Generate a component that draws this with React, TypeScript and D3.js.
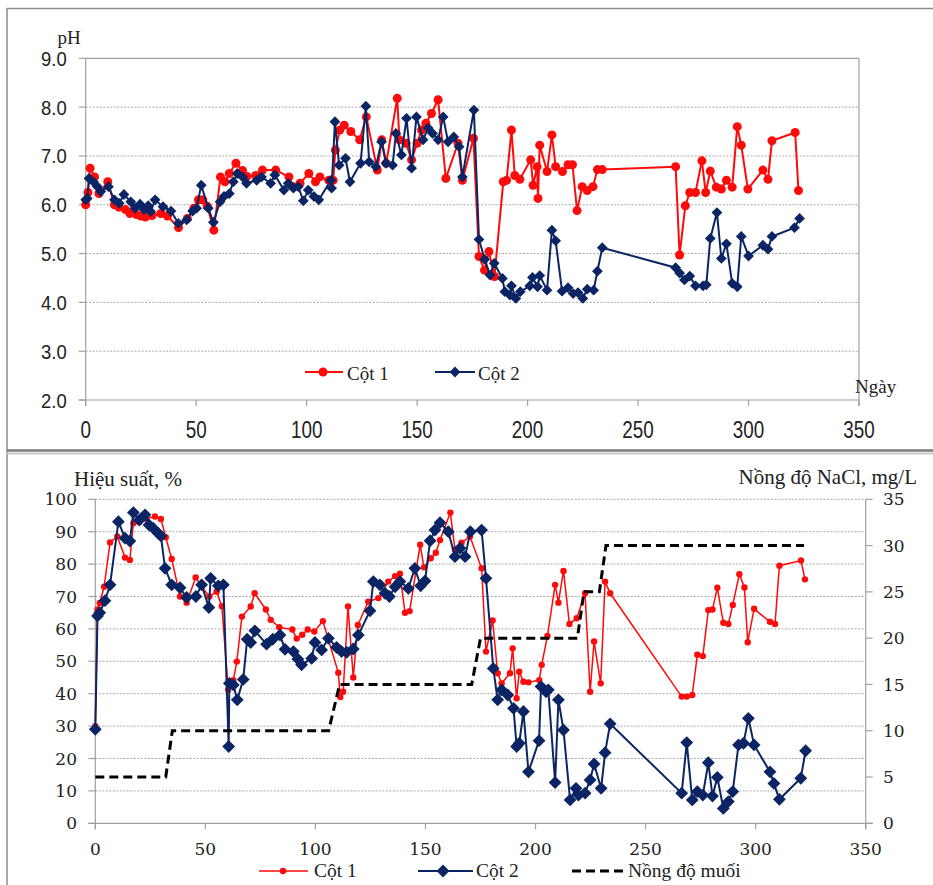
import React from "react";
import * as d3 from "d3";

// ---- pH over time (days) ----
const phCot1: [number, number][] = [
  [0, 6.0], [1, 6.25], [2, 6.75], [4, 6.57], [6, 6.23], [10, 6.47], [13, 6.0], [15, 5.95], [18, 5.9],
  [20, 5.82], [23, 5.8], [25, 5.77], [27, 5.75], [30, 5.78], [34, 5.82], [37, 5.77], [42, 5.53],
  [46, 5.72], [49, 5.93], [51, 6.1], [53, 6.1], [55, 5.97], [58, 5.48], [61, 6.57], [63, 6.47],
  [65, 6.64], [68, 6.85], [71, 6.7], [73, 6.58], [77, 6.6], [80, 6.71], [86, 6.71], [92, 6.57],
  [94, 6.37], [97, 6.44], [101, 6.64], [104, 6.47], [106, 6.57], [110, 6.5], [112, 6.5], [113, 7.12],
  [115, 7.53], [117, 7.63], [120, 7.5], [124, 7.33], [127, 7.8], [132, 6.71], [134, 7.33], [136, 6.85],
  [141, 8.18], [142, 7.33], [145, 7.26], [147.5, 6.92], [150, 7.26], [152, 7.53], [154, 7.67],
  [156.5, 7.87], [159.5, 8.15], [163, 6.54], [168.5, 7.26], [170.5, 6.5], [175.5, 7.36], [178, 4.94],
  [180.5, 4.66], [182.5, 5.04], [185, 4.53], [189, 6.47], [190.5, 6.5], [192.7, 7.53], [194.2, 6.6],
  [196.5, 6.52], [201.4, 6.92], [202.5, 6.4], [204.3, 6.78], [204.7, 6.13], [205.5, 7.22], [208.8, 6.68],
  [211, 7.43], [212.7, 6.78], [215.8, 6.68], [218.3, 6.82], [220.3, 6.82], [222.4, 5.88], [224.7, 6.37],
  [227, 6.29], [229.6, 6.37], [231.6, 6.72], [233.8, 6.72], [267, 6.78], [268.8, 4.97], [271.4, 5.98],
  [273.4, 6.25], [276, 6.25], [278.9, 6.9], [280.6, 6.25], [282.7, 6.69], [285.4, 6.36], [287.7, 6.32],
  [290, 6.5], [292.6, 6.36], [294.9, 7.6], [296.7, 7.22], [299.7, 6.32], [306.5, 6.71], [308.8, 6.52],
  [310.6, 7.31], [321.1, 7.48], [322.6, 6.29],
];

const phCot2: [number, number][] = [
  [0, 6.1], [0.7, 6.13], [1.5, 6.54], [3.5, 6.47], [5.3, 6.37], [6.8, 6.27], [10.3, 6.37], [13, 6.1],
  [15.2, 6.03], [17.3, 6.21], [20.4, 6.06], [22.3, 5.93], [24.6, 6.01], [26.4, 5.9], [28.3, 5.98],
  [29.4, 5.86], [31.4, 6.1], [35, 5.96], [38.6, 5.87], [41.9, 5.62], [45.7, 5.69], [48.4, 5.87],
  [50.2, 5.93], [52.3, 6.4], [55.5, 5.93], [57.8, 5.64], [60.8, 6.06], [62.6, 6.17], [65, 6.23],
  [66.8, 6.47], [68.6, 6.64], [71, 6.57], [72.8, 6.44], [77.4, 6.5], [79.6, 6.57], [83.7, 6.44],
  [85.6, 6.61], [89.7, 6.3], [91.7, 6.44], [94, 6.34], [96.2, 6.37], [98.5, 6.08], [100.7, 6.3],
  [103.3, 6.17], [105.5, 6.1], [111, 6.5], [111.3, 6.34], [112.8, 7.7], [114.7, 6.81], [117.6, 6.95],
  [119.6, 6.47], [124.4, 6.85], [126.8, 8.02], [128.3, 6.88], [131.3, 6.78], [133.9, 7.29], [135.9, 6.85],
  [138.9, 6.81], [140.4, 7.46], [142.9, 7.02], [145.2, 7.77], [147.5, 6.75], [149.7, 7.8], [152.7, 7.33],
  [155, 7.57], [157, 7.46], [159.5, 7.33], [161.8, 7.8], [164, 7.29], [166.6, 7.39], [169, 7.19],
  [170.5, 6.57], [175.7, 7.94], [178, 5.29], [180.6, 4.88], [183, 4.56], [184.9, 4.8], [188.6, 4.49],
  [189.7, 4.22], [192, 4.15], [192.7, 4.34], [194.7, 4.08], [196.7, 4.22], [201, 4.34], [202.2, 4.51],
  [204.5, 4.32], [205.5, 4.55], [208.8, 4.25], [211, 5.48], [212.7, 5.26], [215.6, 4.23], [218.3, 4.3],
  [220.6, 4.18], [222.8, 4.2], [225, 4.08], [227, 4.27], [229.9, 4.25], [231.6, 4.64], [233.8, 5.12],
  [267, 4.71], [268.8, 4.6], [271, 4.46], [273.4, 4.54], [276, 4.34], [279.4, 4.34], [280.9, 4.36],
  [282.7, 5.31], [285.7, 5.84], [287.7, 4.9], [290, 5.2], [292.6, 4.39], [294.9, 4.32], [296.7, 5.35],
  [300, 4.95], [306.5, 5.17], [308.8, 5.09], [310.6, 5.35], [320.8, 5.53], [323.1, 5.72],
];

// ---- removal efficiency (%) and NaCl concentration ----
const hsCot1: [number, number][] = [
  [0, 30], [1, 66], [2, 68], [4, 73], [6.7, 86.7], [10, 88.5], [13.5, 82], [15.7, 81.3], [17.3, 92.6],
  [20, 93], [23, 94], [27.1, 94.7], [29.8, 93.9], [32, 88.3], [34.7, 81.6], [38.5, 70], [41.5, 68.1],
  [45.6, 75.9], [48.3, 73], [51.8, 70], [55.1, 71.5], [57.5, 67], [60.4, 41.2], [62.7, 44.2],
  [64.3, 49.9], [66.6, 63.8], [70.6, 66.9], [72.4, 71], [77.5, 66], [79.7, 62.8], [83.6, 60.5],
  [89.5, 59.8], [91.5, 57], [94, 58.2], [96.5, 59.8], [99.5, 59.2], [103.4, 62.4], [110.4, 46.5],
  [111.3, 39], [112.6, 40.6], [114.8, 66.9], [117.2, 45], [119.3, 61.2], [124, 68.4], [128.6, 69.5],
  [133.1, 74.6], [136.2, 76.3], [138.4, 77], [140.7, 65], [142.8, 65.5], [147.6, 86], [149.3, 79],
  [152.4, 81.8], [154.7, 83.5], [156.6, 87.4], [161.3, 95.9], [163.4, 84.5], [166.4, 86.6],
  [170.2, 88.5], [175.5, 78.7], [177.5, 53], [180.5, 62.6], [182.8, 46.3], [184.6, 43.2], [188.4, 46.3],
  [189.6, 54], [191.4, 38.6], [192.6, 46.8], [194.5, 43.7], [196.8, 43.5], [201.7, 44.2], [202.8, 48.9],
  [205.4, 57.8], [208.9, 73.6], [210.4, 68.1], [212.7, 77.9], [215.4, 61.5], [218.7, 63.3], [222.5, 71],
  [224.8, 40.6], [226.6, 56.1], [229.6, 43.2], [231.6, 74.6], [233.9, 71], [266.4, 39.1], [268.7, 39.1],
  [271.2, 39.6], [273.5, 52], [276, 51.6], [278.5, 65.8], [280.4, 66], [282.6, 72.7], [285.3, 61.9],
  [287.6, 61.5], [289.6, 67.4], [292.6, 76.9], [294.9, 72.8], [296.4, 55.9], [299.3, 66.2],
  [306.5, 62.2], [308.8, 61.5], [310.8, 79.5], [320.6, 81.1], [322.4, 75.3],
];

const hsCot2: [number, number][] = [
  [0, 29], [1, 64], [2, 65], [4.4, 68.7], [6.7, 73.6], [10.5, 93.1], [13.5, 88], [15.7, 87.1],
  [17.3, 95.9], [20, 93.6], [22.6, 95.2], [24.4, 92.1], [26.4, 91], [28.6, 89.5], [29.8, 88.7],
  [31.7, 78.7], [34.7, 73.6], [38.5, 72.7], [41.5, 69.7], [45.7, 70], [48.3, 73.6], [51.6, 66.6],
  [52.4, 75.6], [55.9, 73.3], [58.2, 73.6], [60.6, 23.7], [60.9, 43.2], [62.7, 42.7], [64.5, 38.1],
  [67.2, 44.4], [69, 56.8], [70.6, 55.8], [72.5, 59.4], [77.8, 55.3], [80.6, 56.8], [83.9, 58.1],
  [86.2, 53.7], [90, 53], [92, 50.7], [93.7, 48.9], [98.3, 50.9], [99.8, 55.8], [102.8, 53.5],
  [105.9, 57.1], [109.6, 54.3], [111.9, 53], [114.2, 52.8], [117.2, 53.8], [119.5, 58.1], [124.8, 65.6],
  [126.3, 74.6], [129.3, 73.6], [131.6, 71], [133.6, 70], [136.2, 73], [138.4, 74.6], [142.2, 72.5],
  [145.2, 78.7], [147.8, 73.3], [149.8, 74.8], [152.1, 87.2], [154.3, 90.5], [156.6, 92.8], [160.4, 90],
  [163.4, 82.3], [165.7, 84.9], [168, 82.3], [170.4, 90], [175.5, 90.5], [177.5, 75.6], [180.8, 47.8],
  [182.8, 38.1], [184.6, 41.2], [187.4, 39.6], [190, 35.5], [191.4, 23.7], [192.6, 24.7], [194.5, 34.5],
  [196.8, 15.9], [201.6, 25.5], [202.5, 42.2], [204.8, 40.6], [205.8, 41.2], [208.9, 12.6], [210.4, 38.1],
  [212.7, 28.8], [215.7, 7.2], [218.4, 10.8], [219.5, 8.7], [222.5, 9.3], [224.8, 13.4], [226.6, 18.3],
  [229.8, 10.8], [231.6, 21.8], [233.9, 30.7], [266.4, 9.3], [268.7, 24.9], [271.2, 7.2], [273.5, 9.8],
  [276, 8.7], [278.5, 18.7], [280.4, 8.4], [282.6, 14.2], [285.3, 4.6], [287.6, 6.7], [289.6, 9.8],
  [292.2, 24.2], [294.5, 24.7], [296.7, 32.4], [299.3, 24.2], [306.5, 15.9], [308.3, 12.3], [310.8, 7.4],
  [320.5, 13.9], [322.7, 22.4],
];

const nongDoMuoi: [number, number][] = [
  [0, 5], [32, 5], [35, 10], [106, 10], [111, 15], [171, 15], [175, 20], [219, 20], [222, 25],
  [229, 25], [232, 30], [322, 30],
];

const dayTicks = [0, 50, 100, 150, 200, 250, 300, 350];
const phTicks = [2, 3, 4, 5, 6, 7, 8, 9];
const hsTicks = [0, 10, 20, 30, 40, 50, 60, 70, 80, 90, 100];
const naclTicks = [0, 5, 10, 15, 20, 25, 30, 35];

const RED = "#ff0a0a";
const NAVY = "#0b2463";
const GRID = "#a8a8a8";
const AXIS = "#a0a0a0";
const SERIF = "'Liberation Serif', 'Times New Roman', serif";
const SANS = "'Liberation Sans', Arial, sans-serif";
const TICKSERIF = "'DejaVu Serif', serif";

// scales
const xTop = d3.scaleLinear().domain([0, 350]).range([85.7, 859]);
const yTop = d3.scaleLinear().domain([2, 9]).range([400, 58.3]);
const xBot = d3.scaleLinear().domain([0, 350]).range([95.3, 865.7]);
const yBot = d3.scaleLinear().domain([0, 100]).range([823.3, 499.3]);
const yNaCl = d3.scaleLinear().domain([0, 35]).range([823.3, 499.3]);

const diamond = (size: number) => d3.symbol(d3.symbolSquare, size)() as string;

function Diamond({ x, y, size, fill }: { x: number; y: number; size: number; fill: string }) {
  return <path d={diamond(size)} transform={`translate(${x},${y}) rotate(45)`} fill={fill} />;
}

// condensed sans label (horizontally squeezed)
function NarrowText({
  x, y, children, anchor, size, squeeze, dy,
}: { x: number; y: number; children: React.ReactNode; anchor: "start" | "middle" | "end"; size: number; squeeze: number; dy?: string }) {
  return (
    <text
      transform={`translate(${x},${y}) scale(${squeeze},1)`}
      dy={dy}
      textAnchor={anchor}
      fontFamily={SANS}
      fontSize={size}
      fill="#222"
    >
      {children}
    </text>
  );
}

export default function App() {
  const lt = d3.line<[number, number]>().x((d) => xTop(d[0])).y((d) => yTop(d[1]));
  const lb = d3.line<[number, number]>().x((d) => xBot(d[0])).y((d) => yBot(d[1]));
  const ln = d3.line<[number, number]>().x((d) => xBot(d[0])).y((d) => yNaCl(d[1]));

  const [x0t, x1t] = xTop.range();
  const [x0b, x1b] = xBot.range();

  return (
    <svg
      width={933}
      height={885}
      style={{ position: "absolute", left: 0, top: 0, background: "#fff" }}
      xmlns="http://www.w3.org/2000/svg"
    >
      <rect x={0} y={0} width={933} height={885} fill="#fff" />
      {/* panel frames */}
      <line x1={7} y1={8.5} x2={933} y2={8.5} stroke="#8c8c8c" strokeWidth={1.5} />
      <line x1={7} y1={8} x2={7} y2={885} stroke="#8c8c8c" strokeWidth={1.5} />
      <line x1={7} y1={450.5} x2={933} y2={450.5} stroke="#7a7a7a" strokeWidth={2.5} />
      <line x1={7} y1={453.5} x2={933} y2={453.5} stroke="#c8c8c8" strokeWidth={2} />

      {/* ===== pH chart ===== */}
      <g>
        {phTicks.slice(1, -1).map((t) => (
          <line key={t} x1={x0t} x2={x1t} y1={yTop(t)} y2={yTop(t)} stroke={GRID} strokeDasharray="2,1.5" />
        ))}
        <line x1={x0t} x2={x1t} y1={yTop(9)} y2={yTop(9)} stroke={AXIS} strokeWidth={1.2} />
        <line x1={x1t} x2={x1t} y1={yTop(9)} y2={yTop(2) + 6} stroke={AXIS} strokeWidth={1.2} />
        <line x1={x0t} x2={x0t} y1={yTop(9)} y2={yTop(2) + 6} stroke={AXIS} strokeWidth={1.2} />
        <line x1={x0t - 7} x2={x1t} y1={yTop(2)} y2={yTop(2)} stroke={AXIS} strokeWidth={1.2} />
        {phTicks.map((t) => (
          <g key={t}>
            <line x1={x0t - 7} x2={x0t} y1={yTop(t)} y2={yTop(t)} stroke={AXIS} strokeWidth={1.2} />
            <NarrowText x={66.7} y={yTop(t)} dy="0.36em" anchor="end" size={21} squeeze={0.88}>
              {d3.format(".1f")(t)}
            </NarrowText>
          </g>
        ))}
        {dayTicks.map((t) => (
          <g key={t}>
            <line x1={xTop(t)} x2={xTop(t)} y1={yTop(2)} y2={yTop(2) + 6} stroke={AXIS} strokeWidth={1.2} />
            <NarrowText x={xTop(t)} y={438} anchor="middle" size={23} squeeze={0.82}>
              {t}
            </NarrowText>
          </g>
        ))}
        <text x={57.5} y={44} fontFamily={SERIF} fontSize={19} fill="#222">pH</text>
        <text x={855} y={393} fontFamily={SERIF} fontSize={19} fill="#222">Ngày</text>

        <path d={lt(phCot1) as string} fill="none" stroke={RED} strokeWidth={2} />
        {phCot1.map((d, i) => (
          <circle key={i} cx={xTop(d[0])} cy={yTop(d[1])} r={4.5} fill={RED} />
        ))}
        <path d={lt(phCot2) as string} fill="none" stroke={NAVY} strokeWidth={2} />
        {phCot2.map((d, i) => (
          <Diamond key={i} x={xTop(d[0])} y={yTop(d[1])} size={58} fill={NAVY} />
        ))}

        {/* legend */}
        <line x1={305} x2={343} y1={372} y2={372} stroke={RED} strokeWidth={2} />
        <circle cx={323} cy={372} r={4.5} fill={RED} />
        <text x={347} y={380} fontFamily={SERIF} fontSize={19} fill="#222">Cột 1</text>
        <line x1={435} x2={475} y1={372} y2={372} stroke={NAVY} strokeWidth={2} />
        <Diamond x={455} y={372} size={58} fill={NAVY} />
        <text x={478} y={380} fontFamily={SERIF} fontSize={19} fill="#222">Cột 2</text>
      </g>

      {/* ===== efficiency / NaCl chart ===== */}
      <g>
        {hsTicks.slice(1).map((t) => (
          <line key={t} x1={x0b} x2={x1b} y1={yBot(t)} y2={yBot(t)} stroke={GRID} strokeDasharray="2,1.5" />
        ))}
        <line x1={x0b} x2={x0b} y1={yBot(100)} y2={yBot(0) + 6} stroke={AXIS} strokeWidth={1.2} />
        <line x1={x1b} x2={x1b} y1={yBot(100)} y2={yBot(0) + 6} stroke={AXIS} strokeWidth={1.2} />
        <line x1={x0b - 7} x2={x1b + 7} y1={yBot(0)} y2={yBot(0)} stroke={AXIS} strokeWidth={1.2} />
        {hsTicks.map((t) => (
          <g key={t}>
            <line x1={x0b - 7} x2={x0b} y1={yBot(t)} y2={yBot(t)} stroke={AXIS} strokeWidth={1.2} />
            <text x={77} y={yBot(t)} dy="0.36em" textAnchor="end" fontFamily={TICKSERIF} fontSize={17} fill="#222">
              {t}
            </text>
          </g>
        ))}
        {naclTicks.map((t) => (
          <g key={t}>
            <line x1={x1b} x2={x1b + 7} y1={yNaCl(t)} y2={yNaCl(t)} stroke={AXIS} strokeWidth={1.2} />
            <text x={883} y={yNaCl(t)} dy="0.36em" textAnchor="start" fontFamily={TICKSERIF} fontSize={17} fill="#222">
              {t}
            </text>
          </g>
        ))}
        {dayTicks.map((t) => (
          <g key={t}>
            <line x1={xBot(t)} x2={xBot(t)} y1={yBot(0)} y2={yBot(0) + 6} stroke={AXIS} strokeWidth={1.2} />
            <text x={xBot(t)} y={855} textAnchor="middle" fontFamily={TICKSERIF} fontSize={17} fill="#222">
              {t}
            </text>
          </g>
        ))}
        <text x={74} y={486} fontFamily={SERIF} fontSize={21} fill="#222">Hiệu suất, %</text>
        <text x={917} y={484} textAnchor="end" fontFamily={SERIF} fontSize={21} fill="#222">Nồng độ NaCl, mg/L</text>

        <path d={lb(hsCot1) as string} fill="none" stroke={RED} strokeWidth={1.5} />
        {hsCot1.map((d, i) => (
          <circle key={i} cx={xBot(d[0])} cy={yBot(d[1])} r={3.2} fill={RED} />
        ))}
        <path d={lb(hsCot2) as string} fill="none" stroke={NAVY} strokeWidth={2} />
        {hsCot2.map((d, i) => (
          <Diamond key={i} x={xBot(d[0])} y={yBot(d[1])} size={82} fill={NAVY} />
        ))}
        <path d={ln(nongDoMuoi) as string} fill="none" stroke="#000" strokeWidth={3} strokeDasharray="9,5" />

        {/* legend */}
        <line x1={259} x2={308} y1={871} y2={871} stroke={RED} strokeWidth={1.5} />
        <circle cx={283} cy={871} r={3.2} fill={RED} />
        <text x={314} y={877} fontFamily={SERIF} fontSize={19.5} fill="#222">Cột 1</text>
        <line x1={418} x2={473} y1={871} y2={871} stroke={NAVY} strokeWidth={2} />
        <Diamond x={443} y={871} size={82} fill={NAVY} />
        <text x={476} y={877} fontFamily={SERIF} fontSize={19.5} fill="#222">Cột 2</text>
        <line x1={572} x2={625} y1={871} y2={871} stroke="#000" strokeWidth={3} strokeDasharray="9,5" />
        <text x={628} y={877} fontFamily={SERIF} fontSize={19.5} fill="#222">Nồng độ muối</text>
      </g>
    </svg>
  );
}
